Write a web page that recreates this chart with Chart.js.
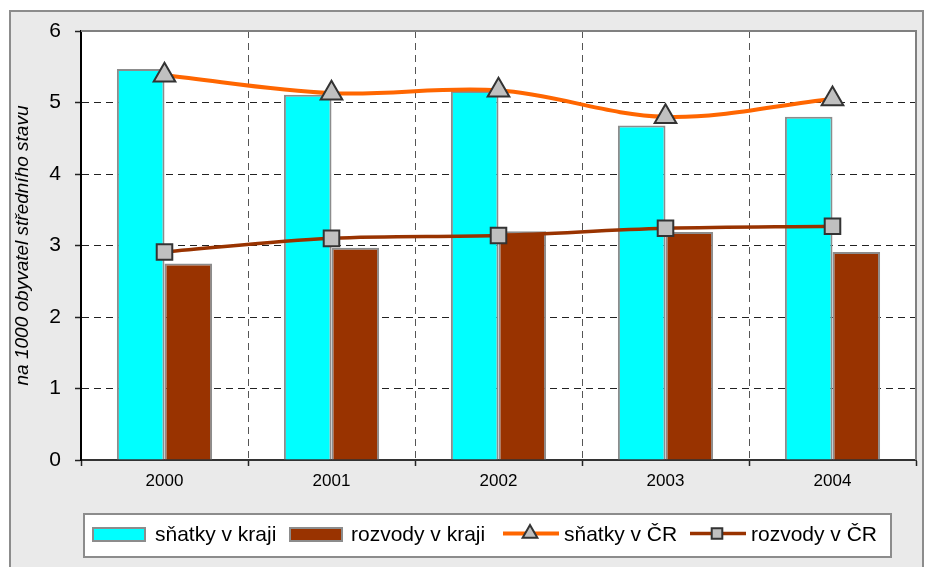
<!DOCTYPE html>
<html><head><meta charset="utf-8">
<script src="https://cdn.jsdelivr.net/npm/chart.js@4"></script>
<style>html,body{margin:0;padding:0;background:#fff;overflow:hidden}#wrap{width:925px;height:567px;position:relative}</style>
</head><body><div id="wrap"><canvas id="c" width="925" height="567"></canvas></div>
<script>
const categories = ['2000', '2001', '2002', '2003', '2004'];
const snatkyKraj = [5.47, 5.11, 5.16, 4.68, 4.80];
const rozvodyKraj = [2.75, 2.97, 3.20, 3.19, 2.91];
const snatkyCR = [5.38, 5.13, 5.17, 4.80, 5.05];
const rozvodyCR = [2.91, 3.10, 3.14, 3.24, 3.27];
const seriesNames = ['sňatky v kraji', 'rozvody v kraji', 'sňatky v ČR', 'rozvody v ČR'];
const yAxisTitle = 'na 1000 obyvatel středního stavu';
const yMin = 0, yMax = 6, yStep = 1;

const FONT = '"Liberation Sans", Arial, sans-serif';

const frame = {
  id: 'frame',
  beforeDraw(chart) {
    const ctx = chart.ctx, a = chart.chartArea;
    ctx.save();
    ctx.fillStyle = '#ffffff'; ctx.fillRect(0, 0, 925, 567);
    ctx.fillStyle = '#eaeaea'; ctx.fillRect(10, 12, 913, 570);
    ctx.strokeStyle = '#8c8c8c'; ctx.lineWidth = 2; ctx.strokeRect(10, 11, 913, 570);
    ctx.fillStyle = '#ffffff'; ctx.fillRect(a.left, a.top, a.right - a.left, a.bottom - a.top);
    ctx.restore();
  },
  afterDraw(chart) {
    const ctx = chart.ctx, a = chart.chartArea;
    ctx.save();
    ctx.strokeStyle = '#808080'; ctx.lineWidth = 2;
    ctx.beginPath(); ctx.moveTo(a.left, a.top); ctx.lineTo(a.right, a.top); ctx.lineTo(a.right, a.bottom); ctx.stroke();
    // legend
    const bx = 84, by = 514, bw = 807, bh = 43;
    ctx.fillStyle = '#ffffff'; ctx.fillRect(bx, by, bw, bh);
    ctx.strokeStyle = '#8c8c8c'; ctx.lineWidth = 2; ctx.strokeRect(bx, by, bw, bh);
    const ds = chart.data.datasets;
    const starts = [93, 290, 503, 690];
    const textX = [155, 351, 564, 751];
    const cy = 534.5;
    ctx.font = '21px ' + FONT; ctx.textBaseline = 'alphabetic'; ctx.textAlign = 'left';
    ds.forEach((d, i) => {
      const x = starts[i];
      if (d.type === 'bar') {
        ctx.fillStyle = d.backgroundColor; ctx.fillRect(x, cy - 6.5, 52, 13);
        ctx.strokeStyle = d.borderColor; ctx.lineWidth = 2; ctx.strokeRect(x, cy - 6.5, 52, 13);
      } else {
        ctx.strokeStyle = d.borderColor; ctx.lineWidth = d.borderWidth;
        ctx.beginPath(); ctx.moveTo(x, cy - 1); ctx.lineTo(x + 56, cy - 1); ctx.stroke();
        ctx.fillStyle = d.pointBackgroundColor; ctx.strokeStyle = d.pointBorderColor; ctx.lineWidth = 2;
        Chart.helpers.drawPoint(ctx, {pointStyle: d.pointStyle, radius: d.pointStyle === 'triangle' ? 8.5 : 7.5, borderWidth: 2, rotation: 0}, x + 27, cy - 1);
      }
      ctx.fillStyle = '#000';
      ctx.fillText(d.label, textX[i], 541);
    });
    ctx.restore();
  }
};

new Chart(document.getElementById('c'), {
  type: 'bar',
  data: {
    labels: categories,
    datasets: [
      {type: 'bar', label: seriesNames[0], data: snatkyKraj, backgroundColor: '#00ffff', borderColor: '#8c8c8c', borderWidth: 2, order: 2, categoryPercentage: 0.57, barPercentage: 1.0},
      {type: 'bar', label: seriesNames[1], data: rozvodyKraj, backgroundColor: '#993300', borderColor: '#8c8c8c', borderWidth: 2, order: 2, categoryPercentage: 0.57, barPercentage: 1.0},
      {type: 'line', label: seriesNames[2], data: snatkyCR, borderColor: '#ff6600', borderWidth: 4, tension: 0.35, fill: false,
        pointStyle: 'triangle', pointRadius: 12.5, pointHoverRadius: 12.5, pointBackgroundColor: '#c0c0c0', pointBorderColor: '#333333', pointBorderWidth: 2, order: 0},
      {type: 'line', label: seriesNames[3], data: rozvodyCR, borderColor: '#993300', borderWidth: 3.5, tension: 0.35, fill: false,
        pointStyle: 'rect', pointRadius: 11, pointHoverRadius: 11, pointBackgroundColor: '#c0c0c0', pointBorderColor: '#333333', pointBorderWidth: 2, order: 0}
    ]
  },
  options: {
    responsive: false,
    devicePixelRatio: 1,
    animation: false,
    layout: {autoPadding: false, padding: {left: 0, top: 31, right: 9, bottom: 67}},
    plugins: {legend: {display: false}, tooltip: {enabled: false}},
    scales: {
      x: {
        offset: true,
        grid: {offset: true, color: '#555555', lineWidth: 1, tickColor: '#222222', tickLength: 6, tickWidth: 1.5},
        border: {display: true, color: '#333333', width: 2, dash: [7, 5]},
        ticks: {color: '#000', font: {family: FONT, size: 17}, padding: 5},
        afterFit(s) { s.height = 40; }
      },
      y: {
        min: yMin, max: yMax,
        grid: {color: (c) => (c.tick && (c.tick.value === yMin || c.tick.value === yMax)) ? 'rgba(0,0,0,0)' : '#222222',
               lineWidth: 1, tickColor: '#222222', tickLength: 6, tickWidth: 1.5},
        border: {display: true, color: '#000000', width: 2, dash: [7, 5]},
        ticks: {stepSize: yStep, color: '#000', font: {family: FONT, size: 21}, padding: 14},
        title: {display: true, text: yAxisTitle, color: '#000', font: {family: FONT, size: 19, style: 'italic'}, padding: {top: 11, bottom: 0}},
        afterFit(s) { s.width = 81; }
      }
    }
  },
  plugins: [frame]
});
</script>
</body></html>
